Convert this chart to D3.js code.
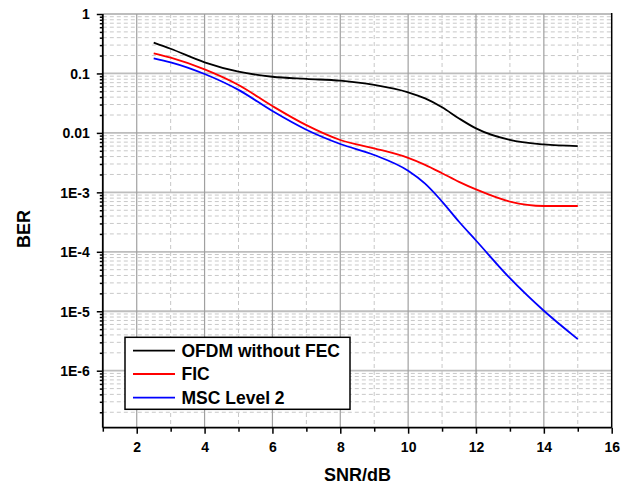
<!DOCTYPE html>
<html>
<head>
<meta charset="utf-8">
<script src="https://cdn.jsdelivr.net/npm/d3@7"></script>
<style>
  body { margin: 0; background: #fff; }
  text { font-family: Arial, "Liberation Sans", sans-serif; font-weight: bold; }
</style>
</head>
<body>
<svg width="634" height="487"></svg>
<script>
// SNR values (dB)
var snr = [2.5, 3, 4, 5, 6, 7, 8, 9, 10, 10.5, 11, 11.5, 12, 13, 14, 15];
var ofdm = [0.33, 0.26, 0.154, 0.107, 0.088, 0.081, 0.0755, 0.064, 0.048, 0.038, 0.027, 0.0175, 0.0119, 0.0076, 0.0064, 0.006];
var fic = [0.218, 0.184, 0.117, 0.064, 0.0283, 0.0135, 0.0076, 0.0055, 0.0038, 0.0029, 0.0021, 0.0015, 0.00112, 0.0007, 0.00059, 0.00059];
var msc = [0.18, 0.154, 0.098, 0.053, 0.0233, 0.0113, 0.0065, 0.00425, 0.00231, 0.0014, 0.0007, 0.00032, 0.000155, 3.6e-5, 1.02e-5, 3.4e-6];

var seriesNames = ["OFDM without FEC", "FIC", "MSC Level 2"];
var seriesColors = ["#000000", "#ff0000", "#0000ff"];
var seriesValues = [ofdm, fic, msc];

var xTicks = [2, 4, 6, 8, 10, 12, 14, 16];
var yTicks = [1, 0.1, 0.01, 1e-3, 1e-4, 1e-5, 1e-6];
var yTickLabels = ["1", "0.1", "0.01", "1E-3", "1E-4", "1E-5", "1E-6"];

var svg = d3.select("svg");
var pLeft = 102.8, pRight = 611.7, pTop = 14, pBottom = 427.7;

var x = d3.scaleLinear().domain([1, 16]).range([pLeft, pRight]);
var y = d3.scaleLog().domain([1.1e-7, 1]).range([pBottom, pTop]);

// minor values
var yMinor = [];
for (var e = -7; e <= -1; e++) {
  for (var m = 2; m <= 9; m++) {
    var v = m * Math.pow(10, e);
    if (v > 1.1e-7 && v < 1) yMinor.push(v);
  }
}
var yMajor = [1e-6, 1e-5, 1e-4, 1e-3, 1e-2, 1e-1, 1];
var xMinor = [3, 5, 7, 9, 11, 13, 15];
var xMajor = [2, 4, 6, 8, 10, 12, 14];

var grid = svg.append("g");
grid.selectAll(".hmin").data(yMinor).enter().append("line")
  .attr("x1", pLeft).attr("x2", pRight)
  .attr("y1", function(d) { return y(d); }).attr("y2", function(d) { return y(d); })
  .attr("stroke", "#c8c8c8").attr("stroke-width", 1).attr("stroke-dasharray", "4,3");
grid.selectAll(".vmin").data(xMinor).enter().append("line")
  .attr("y1", pTop).attr("y2", pBottom)
  .attr("x1", function(d) { return x(d); }).attr("x2", function(d) { return x(d); })
  .attr("stroke", "#c8c8c8").attr("stroke-width", 1).attr("stroke-dasharray", "4,3");
grid.selectAll(".hmaj").data(yMajor).enter().append("line")
  .attr("x1", pLeft).attr("x2", pRight)
  .attr("y1", function(d) { return y(d); }).attr("y2", function(d) { return y(d); })
  .attr("stroke", "#bdbdbd").attr("stroke-width", 1.8);
grid.selectAll(".vmaj").data(xMajor).enter().append("line")
  .attr("y1", pTop).attr("y2", pBottom)
  .attr("x1", function(d) { return x(d); }).attr("x2", function(d) { return x(d); })
  .attr("stroke", "#a0a0a0").attr("stroke-width", 1.2);

// curves
var line = d3.line()
  .x(function(d) { return x(d[0]); })
  .y(function(d) { return y(d[1]); })
  .curve(d3.curveMonotoneX);

seriesValues.forEach(function(vals, i) {
  svg.append("path")
    .datum(snr.map(function(s, j) { return [s, vals[j]]; }))
    .attr("d", line)
    .attr("fill", "none")
    .attr("stroke", seriesColors[i])
    .attr("stroke-width", 1.8);
});

// right border
svg.append("line").attr("x1", pRight).attr("x2", pRight).attr("y1", pTop - 1).attr("y2", pBottom)
  .attr("stroke", "#000").attr("stroke-width", 1.5);

// axes
var xAxis = svg.append("g").attr("transform", "translate(0," + pBottom + ")");
xAxis.call(d3.axisBottom(x).tickValues(xTicks).tickSize(6).tickFormat(d3.format("d")));
var xAxisMinor = svg.append("g").attr("transform", "translate(0," + pBottom + ")");
xAxisMinor.call(d3.axisBottom(x).tickValues(xMinor.concat([1])).tickSize(4).tickFormat(""));
xAxisMinor.select(".domain").remove();

var yAxis = svg.append("g").attr("transform", "translate(" + pLeft + ",0)");
yAxis.call(d3.axisLeft(y).tickValues(yTicks).tickSize(6)
  .tickFormat(function(d, i) { return yTickLabels[i]; }));
var yAxisMinor = svg.append("g").attr("transform", "translate(" + pLeft + ",0)");
yAxisMinor.call(d3.axisLeft(y).tickValues(yMinor).tickSize(3).tickFormat(""));
yAxisMinor.select(".domain").remove();

[xAxis, yAxis, xAxisMinor, yAxisMinor].forEach(function(a) {
  a.attr("font-family", null).attr("font-size", null);
  a.selectAll(".domain").attr("stroke", "#000").attr("stroke-width", 1.8);
  a.selectAll(".tick line").attr("stroke", "#000").attr("stroke-width", 1.5);
});
xAxis.selectAll(".tick text").attr("font-size", 14).attr("fill", "#000").attr("dy", null).attr("y", 24);
yAxis.selectAll(".tick text").attr("font-size", 14).attr("fill", "#000").attr("x", -13).attr("dy", "0.35em");
xAxis.select(".domain").attr("d", "M" + pLeft + ",0H" + pRight);
yAxis.select(".domain").attr("d", "M0," + pBottom + "V" + pTop);

// axis titles
svg.append("text").attr("x", 357.5).attr("y", 481).attr("text-anchor", "middle")
  .attr("font-size", 18).text("SNR/dB");
svg.append("text").attr("transform", "translate(30,229) rotate(-90)").attr("text-anchor", "middle")
  .attr("font-size", 18).text("BER");

// legend
var lg = svg.append("g");
lg.append("rect").attr("x", 125).attr("y", 337.3).attr("width", 225).attr("height", 72)
  .attr("fill", "#fff").attr("stroke", "#000").attr("stroke-width", 1.5);
var rows = [350.7, 374, 397.7];
seriesNames.forEach(function(name, i) {
  lg.append("line").attr("x1", 133).attr("x2", 175).attr("y1", rows[i]).attr("y2", rows[i])
    .attr("stroke", seriesColors[i]).attr("stroke-width", 1.8);
  lg.append("text").attr("x", 181.5).attr("y", rows[i] + 6.3).attr("font-size", 17.5)
    .attr("fill", "#000").text(name);
});
</script>
</body>
</html>
